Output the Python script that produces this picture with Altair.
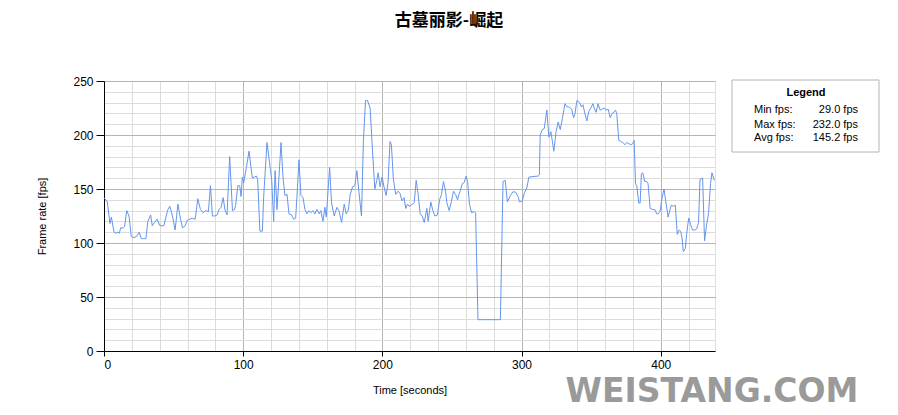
import altair as alt
import pandas as pd

chart_title = "古墓丽影-崛起"
x_title = "Time [seconds]"
y_title = "Frame rate [fps]"
legend_title = "Legend"
legend_labels = ["Min fps:", "Max fps:", "Avg fps:"]
legend_values = ["29.0 fps", "232.0 fps", "145.2 fps"]
watermark = "WEISTANG.COM"

x_major = [0, 100, 200, 300, 400]
x_minor = list(range(0, 421, 20))
y_major = [0, 50, 100, 150, 200, 250]
y_minor = list(range(0, 251, 10))

time_s = []
fps = []
# 0 - 111 s
time_s += [0, 2.4, 4.3, 5.3, 7.2, 8.4, 10, 11, 12, 13.9, 14.8, 16.3, 18, 19.6, 21.5, 23.4, 25.3, 26.8, 28.2, 30.1,
           31.5, 33.5, 34.7, 36.3, 38.2, 40.2, 43, 44.5, 45.9, 47.3, 49.2, 51.1, 53.1, 55, 56.4, 58.3, 59.8, 61.7, 63.3, 65.5,
           67.4, 69.3, 71.2, 73.1, 75, 76.5, 77.9, 79.4, 81.3, 82.7, 84.1, 85.6, 87, 88.4, 90.3, 92.3, 93.7, 94.6, 96.1, 97.5,
           98.5, 99.4, 100.4, 102.3, 104.2, 106.6, 108, 109.5, 110.4]
fps += [142, 138, 118, 124, 110, 109, 110, 109, 114, 114, 115, 130, 125, 106, 105, 106, 110, 104, 104, 104,
        120, 126, 116, 119, 122, 116, 116, 124, 131, 134, 125, 112, 136, 122, 114, 116, 121, 122, 123, 122,
        141, 131, 128, 130, 129, 153, 125, 125, 126, 131, 133, 142, 130, 126, 180, 130, 131, 135, 153, 153,
        143, 161, 156, 170, 185, 160, 161, 162, 159]
# 111 - 219 s
time_s += [112, 113.8, 114.7, 117.1, 119.5, 120.5, 121.9, 122.9, 124.3, 127.2, 128.6, 130, 131.5, 132.9,
           134.8, 136.3, 137.7, 138.6, 140.1, 141.5, 143, 144.4, 145.8, 147.2, 148.7, 150.1, 151.5, 153, 154.6,
           155.8, 157.3, 158.7, 159.7, 162.1, 163.5, 165.4, 167.3, 168.8, 170.7, 172.6, 174, 175.5, 176.9, 178.6,
           180.2, 181.7, 183.1, 185, 186.4, 187.9, 189.3, 191.2, 192.9, 194.6, 196, 197, 198.4, 199.8, 201.2,
           202.7, 204.1, 205.5, 206.5, 207.9, 209.6, 211.3, 212.7, 214.1, 215.6, 216.8, 218, 219.2]
fps += [111, 111, 142, 193, 169, 158, 120, 167, 131, 193, 161, 144, 145, 127,
        126, 122, 123, 142, 177, 144, 142, 131, 127, 130, 128, 130, 127, 131, 127,
        130, 120, 133, 124, 170, 137, 125, 133, 130, 119, 136, 127, 130, 145, 152,
        153, 167, 148, 125, 195, 232, 232, 225, 186, 150, 158, 165, 152, 161, 152,
        144, 156, 194, 191, 159, 145, 148, 146, 139, 142, 132, 136, 134]
# 219 - 313 s
time_s += [220.5, 221.9, 222.9, 224.3, 225.7, 227.2, 228.6, 230.1, 232, 232.9, 234.8, 236.3, 237.7, 239.6, 241.1,
           242.5, 243.9, 245.4, 246.3, 248, 249.7, 251.1, 252.6, 254, 255, 255.9, 257.4, 258.8, 260.2, 261.2,
           262.6, 264.1, 266, 267, 268.7, 272, 275, 278, 281, 284.8, 286.7, 288.3, 289.8, 292, 293.9,
           295.8, 297.5, 298.6, 300.5, 302.2, 303.8, 305.3, 308.2, 312, 312.8]
fps += [135, 136, 137.5, 158, 145, 127, 125, 119, 132, 120, 138, 130, 125, 126, 140,
        145, 157, 148, 137.5, 130, 139, 148, 145, 140, 145, 148, 155, 156, 162, 157,
        136, 128, 129, 128, 29, 29, 29, 29, 29, 29, 157, 158, 138, 144, 147.5,
        147, 143, 138, 139, 147, 151, 161, 161.5, 162, 163]
# 313 - 439 s
time_s += [313.4, 314.8, 316.3, 318.2, 319.6, 321.1, 323.2, 324.8, 326.3, 327.8, 329.3, 331.2, 332.6, 334, 336,
           337.4, 338.3, 339.8, 341.7, 343.1, 344.1, 345.5, 346.9, 348.4, 349.8, 351.3, 352.2, 353.6, 355, 356.5,
           357.9, 359.4, 360.8, 362.2, 363.7, 365.1, 366.5, 367.5, 368.4, 369.9, 371.3, 372.8, 374.2, 375.6, 377.1,
           378.5, 379.9, 380.9, 381.9, 382.8, 384.2, 385.2, 386.1, 387.1, 388.5, 389.9, 390.9, 392.4, 394.3, 395.7,
           397.1, 398.1, 399.5, 401, 402.4, 403.8, 405.3, 406.7, 407.6, 409.1, 410.5, 411.9, 413.4, 414.3, 415.3,
           416.2, 417.7, 418.6, 420.1, 421.5, 422.9, 424.4, 425.8, 427.2, 428.2, 430.1, 431.5, 432.9, 434.4, 435.8,
           436.8, 438.5]
fps += [200, 205, 206, 223, 198, 203, 185, 203, 212, 205, 215, 229, 226, 226, 224,
        216, 219, 232, 230, 226, 228, 220, 213, 222, 225, 229, 225, 221, 229, 223,
        224, 225, 223, 224, 216, 220, 221, 223, 220, 195, 194, 193, 191, 193, 192,
        191, 192, 195, 155, 153, 137, 137, 164, 165, 157, 157, 155, 132, 131, 131,
        127, 127, 129, 142, 150, 137, 124, 131, 135, 134, 135, 108, 112, 111, 105,
        92, 95, 108, 123, 117, 112, 112, 113, 119, 159, 160, 102, 116, 128, 155,
        165, 158]

assert len(time_s) == len(fps), (len(time_s), len(fps))

df = pd.DataFrame({"t": time_s, "fps": fps})

FONT = "Liberation Sans"
x_scale = alt.Scale(domain=[0, 439], nice=False, zero=False)
y_scale = alt.Scale(domain=[0, 250], nice=False)

minor = alt.Chart(df).mark_line(strokeOpacity=0).encode(
    x=alt.X("t:Q", scale=x_scale,
            axis=alt.Axis(values=x_minor, grid=True, gridColor="#dcdcdc", gridWidth=1,
                          labels=False, ticks=False, domain=False, title=None, orient="top")),
    y=alt.Y("fps:Q", scale=y_scale,
            axis=alt.Axis(values=y_minor, grid=True, gridColor="#dcdcdc", gridWidth=1,
                          labels=False, ticks=False, domain=False, title=None, orient="right")),
)

main = alt.Chart(df).mark_line(color="#6495ED", strokeWidth=1).encode(
    x=alt.X("t:Q", scale=x_scale,
            axis=alt.Axis(values=x_major, grid=True, gridColor="#b4b4b4", orient="bottom",
                          domainColor="black", tickColor="black", tickSize=5, labelPadding=3,
                          labelFont=FONT, labelFontSize=12, labelColor="black",
                          title=x_title, titleFont=FONT, titleFontSize=11, titleFontWeight="normal",
                          titleColor="black", titleY=39, titleBaseline="middle")),
    y=alt.Y("fps:Q", scale=y_scale,
            axis=alt.Axis(values=y_major, grid=True, gridColor="#b4b4b4", orient="left",
                          domainColor="black", tickColor="black", tickSize=8, labelPadding=3,
                          labelFont=FONT, labelFontSize=12, labelColor="black",
                          title=y_title, titleFont=FONT, titleFontSize=11, titleFontWeight="normal",
                          titleColor="black", titleX=-62, titleY=135, titleAngle=270,
                          titleAlign="center", titleBaseline="middle")),
)

one = pd.DataFrame({"s": [""]})


def text_layer(s, x, y, **kw):
    return alt.Chart(pd.DataFrame({"s": [s]})).mark_text(**kw).encode(
        text="s:N", x=alt.value(x), y=alt.value(y))


legend_box = alt.Chart(one).mark_rect(fill="white", stroke="#b4b4b4", strokeWidth=1).encode(
    x=alt.value(628), x2=alt.value(775), y=alt.value(-1), y2=alt.value(71))

layers = [minor, main, legend_box,
          text_layer(legend_title, 702, 12, font=FONT, fontSize=11, fontWeight="bold",
                     align="center", baseline="middle", color="black")]
row_y = [29, 43.5, 57]
for lab, val, yy in zip(legend_labels, legend_values, row_y):
    layers.append(text_layer(lab, 650, yy, font=FONT, fontSize=11, align="left",
                             baseline="middle", color="black"))
    layers.append(text_layer(val, 754, yy, font=FONT, fontSize=11, align="right",
                             baseline="middle", color="black"))

layers.append(text_layer(chart_title, 345, -60, font="Noto Sans CJK SC", fontSize=17,
                         fontWeight="bold", align="center", baseline="middle", color="black"))
layers.append(text_layer(watermark, 608, 321, font="DejaVu Sans", fontSize=33, fontWeight="bold",
                         align="center", baseline="alphabetic", color="#9a9a9a"))

chart = alt.layer(*layers).resolve_axis(x="independent", y="independent").properties(
    width=611, height=270,
    autosize=alt.AutoSizeParams(type="none"),
    padding={"left": 96, "top": 73, "right": 170, "bottom": 56},
).configure_view(stroke=None).configure(background="white")

chart.save("out.html", embed_options={"renderer": "svg", "actions": False})
